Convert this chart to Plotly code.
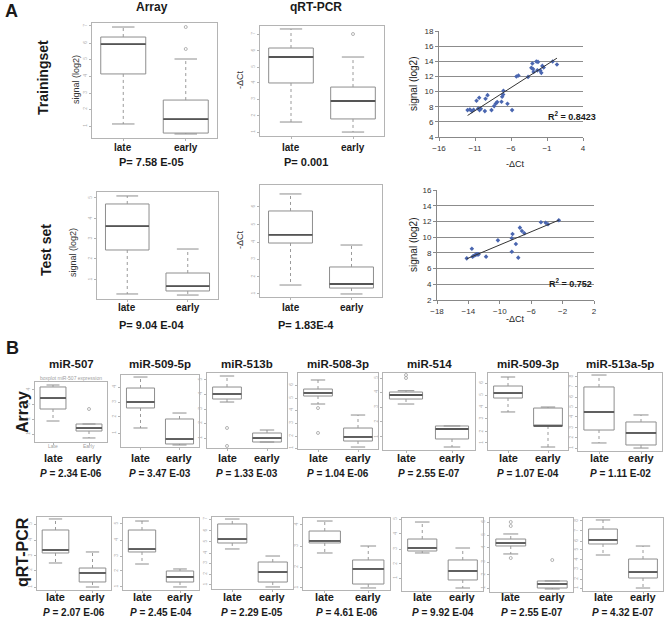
import numpy as np
import plotly.graph_objects as go

W, H = 666, 619
FONT = "Arial, Liberation Sans, sans-serif"

groups = ["late", "early"]

# ---- Panel A box plots ------------------------------------------------
# each box: [lower whisker, Q1, median, Q3, upper whisker]
# values read off the figure as % of the plot frame height
a_train_array = [[12.2, 55.7, 81.7, 87.8, 96.5], [3.5, 4.3, 16.5, 33.0, 68.7]]
a_train_array_out = [[], [96.5, 77.4]]
a_train_qpcr = [[12.7, 48.2, 71.8, 80.0, 97.3], [3.6, 15.5, 31.8, 44.5, 71.8]]
a_train_qpcr_out = [[], [92.7]]
a_test_array = [[4.7, 45.8, 68.2, 88.8, 96.3], [3.7, 7.5, 12.1, 24.3, 46.7]]
a_test_qpcr = [[10.7, 48.2, 55.4, 76.8, 92.0], [2.7, 8.0, 11.6, 26.8, 46.4]]
a_pvals = ["P= 7.58 E-05", "P= 0.001", "P= 9.04 E-04", "P= 1.83E-4"]

# ---- Panel A correlation scatters (-dCt vs array signal) ----------------
train_dct = [-12.03, -11.71, -11.43, -11.20, -10.79, -10.55, -10.42, -10.37, -10.19,
             -9.63, -9.54, -9.26, -8.71, -8.34, -8.11, -7.92, -7.32, -7.23, -7.09,
             -7.05, -6.49, -5.85, -5.25, -4.97, -3.63, -3.17, -3.03, -2.94, -2.85,
             -2.48, -2.34, -2.25, -1.93, -1.79, -1.65, -1.46, -0.22, 0.38]
train_signal = [7.55, 7.64, 7.42, 7.60, 8.78, 7.77, 9.18, 7.55, 7.73,
                7.42, 9.05, 9.53, 7.55, 8.08, 8.43, 8.61, 8.65, 9.31, 9.62,
                10.10, 8.39, 7.55, 11.99, 12.12, 11.94, 13.13, 13.70, 12.99, 12.60,
                13.96, 12.80, 13.92, 12.78, 12.47, 13.39, 13.17, 13.96, 13.57]
test_dct = [-14.21, -13.56, -13.47, -13.34, -13.13, -13.00, -12.83, -12.70, -11.75,
            -10.24, -8.47, -8.38, -8.47, -7.95, -7.65, -7.44, -7.18, -6.87,
            -4.76, -4.16, -3.86, -2.48]
test_signal = [7.30, 8.53, 7.52, 7.60, 7.73, 7.81, 7.81, 7.81, 7.52,
               9.59, 9.85, 10.40, 8.15, 9.13, 7.39, 11.21, 10.78, 10.49,
               11.89, 11.84, 11.63, 12.14]
r2_labels = ["0.8423", "0.752"]

# ---- Panel B: seven miRNAs, array and qRT-PCR ----------------------------
mirs = ["miR-507", "miR-509-5p", "miR-513b", "miR-508-3p", "miR-514", "miR-509-3p", "miR-513a-5p"]
b_array_late = [[35.0, 55.0, 73.3, 91.7, 95.0], [26.4, 54.2, 62.5, 81.9, 97.2],
                [61.3, 65.3, 72.0, 81.3, 96.0], [59.2, 69.7, 73.7, 78.9, 90.8],
                [59.7, 66.2, 71.4, 75.3, 77.0], [49.4, 67.5, 74.0, 83.1, 94.8],
                [10.3, 26.9, 50.0, 82.1, 97.4]]
b_array_early = [[6.7, 18.3, 23.3, 30.0, 30.0], [2.8, 4.2, 11.1, 38.9, 47.2],
                 [8.0, 8.0, 13.3, 20.0, 24.0], [2.6, 10.5, 15.8, 27.6, 44.7],
                 [3.9, 14.3, 27.3, 31.2, 31.2], [3.9, 31.2, 31.2, 54.5, 55.8],
                 [3.8, 7.7, 23.1, 37.2, 46.2]]
b_array_out_late = [[], [], [26.7, 2.7], [53.9, 21.1], [97.4, 93.5], [], []]
b_array_out_early = [[55.0], [], [], [], [], [], []]
b_array_p = ["2.34 E-06", "3.47 E-03", "1.33 E-03", "1.04 E-06", "2.55 E-07", "1.07 E-04", "1.11 E-02"]

b_qpcr_late = [[37.0, 50.7, 54.8, 82.2, 97.3], [36.1, 52.8, 56.9, 83.3, 95.8],
               [55.6, 63.9, 69.4, 90.3, 97.2], [51.4, 65.3, 68.1, 81.9, 95.8],
               [52.1, 54.8, 58.9, 71.2, 94.5], [51.4, 62.2, 66.2, 71.6, 78.4],
               [49.3, 64.4, 69.9, 84.9, 97.3]]
b_qpcr_early = [[4.1, 11.0, 23.3, 30.1, 52.1], [4.2, 11.1, 18.1, 26.4, 29.2],
                [2.8, 9.7, 23.6, 37.5, 45.8], [2.8, 8.3, 29.2, 41.7, 61.1],
                [4.1, 15.1, 27.4, 42.5, 58.9], [4.1, 5.4, 10.8, 14.9, 14.9],
                [4.1, 17.8, 26.0, 43.8, 61.6]]
b_qpcr_out_late = [[], [], [], [], [], [94.6, 89.2, 45.9], []]
b_qpcr_out_early = [[], [], [], [], [], [43.2], []]
b_qpcr_p = ["2.07 E-06", "2.45 E-04", "2.29 E-05", "4.61 E-06", "9.92 E-04", "2.55 E-07", "4.32 E-07"]

# ---- layout (pixel frames: x0, y0, x1, y1) ------------------------------
A_FRAMES = [(92, 23, 217, 138), (260, 26, 384, 136), (97, 192, 218, 299), (260, 185, 382, 297)]
A_TICKS = [[10.4, 25.2, 39.1, 53.9, 68.7, 82.6, 97.4],
           [3.6, 18.2, 33.6, 48.2, 62.7, 77.3, 92.7],
           [17.8, 37.4, 56.1, 74.8, 94.4],
           [2.7, 17.9, 33.9, 49.1, 64.3, 80.4]]
B_ARRAY_FRAMES = [(35, 382, 107, 442), (121, 375, 199, 447), (207, 373, 287, 448),
                  (298, 373, 378, 449), (383, 373, 475, 450), (488, 373, 568, 450),
                  (578, 373, 662, 451)]
B_QPCR_FRAMES = [(37, 517, 111, 590), (123, 518, 199, 590), (212, 517, 293, 589),
                 (303, 518, 390, 590), (402, 518, 483, 591), (490, 518, 573, 592),
                 (583, 518, 663, 591)]
B_ARRAY_TICKS = [[13.3, 38.3, 61.7, 86.7], [19.4, 41.7, 62.5, 83.3],
                 [13.3, 33.3, 52, 72, 90.7], [1.3, 17.1, 34.2, 51.3, 67.1, 84.2],
                 [16.9, 36.4, 55.8, 75.3, 93.5], [9.1, 23.4, 40.3, 55.8, 71.4, 87],
                 [3.8, 16.7, 29.5, 43.6, 56.4, 69.2, 82.1, 94.9]]
B_QPCR_TICKS = [[4.1, 27.4, 46.6, 68.5, 90.4], [4.2, 26.4, 47.2, 69.4, 91.7],
                [5.6, 20.8, 36.1, 50, 65.3, 80.6, 97.2], [2.8, 31.9, 61.1, 90.3],
                [17.8, 37, 57.5, 78.1, 98.6], [5.4, 23, 40.5, 59.5, 77, 94.6],
                [4.1, 16.4, 30.1, 42.5, 56.2, 68.5, 82.2, 95.9]]

FRAME_C = "#b4b4b4"
BOX_C = "#8e8e8e"
MED_C = "#555555"
BOX_W = 0.72

fig = go.Figure()
layout = {}
annotations = []
count = [0]


def add_axes(frame):
    count[0] += 1
    n = count[0]
    s = "" if n == 1 else str(n)
    x0, y0, x1, y1 = frame
    layout["xaxis" + s] = dict(domain=[x0 / W, x1 / W], anchor="y" + s, automargin=False)
    layout["yaxis" + s] = dict(domain=[1 - y1 / H, 1 - y0 / H], anchor="x" + s, automargin=False)
    return "x" + s, "y" + s, s


def text(x, y, s, size, bold=True, angle=0, color="#1a1a1a", xref="paper", xanchor="center"):
    annotations.append(dict(
        text="<b>%s</b>" % s if bold else s,
        x=x / W if xref == "paper" else x, y=1 - y / H,
        xref=xref, yref="paper", showarrow=False, textangle=angle,
        xanchor=xanchor, yanchor="middle",
        font=dict(family=FONT, size=size, color=color)))


def box_panel(frame, stats, outs, yticks, label_y=None, label_size=10):
    xa, ya, s = add_axes(frame)
    for i, st in enumerate(stats):
        lo, q1, med, q3, hi = st
        # R style: dotted whiskers with solid caps
        fig.add_trace(go.Scatter(
            x=[i, i, None, i, i], y=[q3, hi, None, q1, lo], mode="lines",
            line=dict(color="#9a9a9a", width=1, dash="dot"),
            xaxis=xa, yaxis=ya, showlegend=False, hoverinfo="skip"))
        c = BOX_W / 4
        fig.add_trace(go.Scatter(
            x=[i - c, i + c, None, i - c, i + c], y=[hi, hi, None, lo, lo], mode="lines",
            line=dict(color=BOX_C, width=1),
            xaxis=xa, yaxis=ya, showlegend=False, hoverinfo="skip"))
        fig.add_trace(go.Box(
            x=[i], lowerfence=[q1], q1=[q1], median=[med], q3=[q3],
            upperfence=[q3], width=BOX_W, whiskerwidth=0, fillcolor="white",
            line=dict(color=BOX_C, width=1), boxpoints=False,
            xaxis=xa, yaxis=ya, showlegend=False, hoverinfo="skip"))
        fig.add_trace(go.Scatter(
            x=[i - BOX_W / 2, i + BOX_W / 2], y=[med, med], mode="lines",
            line=dict(color=MED_C, width=1.8), xaxis=xa, yaxis=ya,
            showlegend=False, hoverinfo="skip"))
        if outs[i]:
            fig.add_trace(go.Scatter(
                x=[i] * len(outs[i]), y=outs[i], mode="markers",
                marker=dict(symbol="circle-open", size=3, color="#a0a0a0", line=dict(width=0.8)),
                xaxis=xa, yaxis=ya, showlegend=False, hoverinfo="skip"))
    layout["xaxis" + s].update(
        range=[-0.5, 1.5], showline=True, mirror=True, linecolor=FRAME_C, linewidth=1,
        showgrid=False, zeroline=False, tickvals=[0, 1], ticks="outside", ticklen=2,
        tickcolor=FRAME_C, showticklabels=False, fixedrange=True)
    layout["yaxis" + s].update(
        range=[0, 100], showline=True, mirror=True, linecolor=FRAME_C, linewidth=1,
        showgrid=False, zeroline=False, tickvals=yticks,
        ticktext=[str(k + 1) for k in range(len(yticks))], ticks="outside",
        ticklen=2, tickcolor=FRAME_C, tickangle=-90,
        tickfont=dict(family=FONT, size=5, color="#b0b0b0"), fixedrange=True)
    if label_y is not None:
        for i, g in enumerate(groups):
            text(i, label_y, g, label_size, xref=xa)
    return xa


def scatter_panel(frame, xs, ys, xr, yr, xticks):
    xa, ya, s = add_axes(frame)
    fig.add_trace(go.Scatter(
        x=xs, y=ys, mode="markers",
        marker=dict(symbol="diamond", size=3.5, color="#4a66b0"),
        xaxis=xa, yaxis=ya, showlegend=False, hoverinfo="skip"))
    slope, icpt = np.polyfit(xs, ys, 1)
    lx = np.array([min(xs), max(xs)])
    fig.add_trace(go.Scatter(
        x=lx, y=slope * lx + icpt, mode="lines", line=dict(color="#333333", width=1),
        xaxis=xa, yaxis=ya, showlegend=False, hoverinfo="skip"))
    layout["xaxis" + s].update(
        range=xr, tickvals=xticks, showline=True, linecolor="#888888", linewidth=1,
        showgrid=False, zeroline=False, ticks="outside", ticklen=3, tickcolor="#888888",
        tickfont=dict(family=FONT, size=8, color="#333333"), fixedrange=True)
    layout["yaxis" + s].update(
        range=yr, dtick=2, showline=True, linecolor="#888888", linewidth=1,
        showgrid=True, gridcolor="#8c8c8c", gridwidth=1, zeroline=False,
        ticks="outside", ticklen=3, tickcolor="#888888",
        tickfont=dict(family=FONT, size=8, color="#333333"), fixedrange=True)


# ---- panel A ------------------------------------------------------------
box_panel(A_FRAMES[0], a_train_array, a_train_array_out, A_TICKS[0], 147)
box_panel(A_FRAMES[1], a_train_qpcr, a_train_qpcr_out, A_TICKS[1], 147)
box_panel(A_FRAMES[2], a_test_array, [[], []], A_TICKS[2], 307)
box_panel(A_FRAMES[3], a_test_qpcr, [[], []], A_TICKS[3], 307)

scatter_panel((439, 31, 583, 137), train_dct, train_signal, [-16, 4], [4, 18], [-16, -11, -6, -1, 4])
scatter_panel((437, 190, 594, 300), test_dct, test_signal, [-18, 2], [2, 16], [-18, -14, -10, -6, -2, 2])

text(11, 11, "A", 18)
text(152, 7, "Array", 12)
text(316, 7, "qRT-PCR", 12)
text(43, 78, "Trainingset", 14, angle=-90)
text(46, 250, "Test set", 14, angle=-90)
text(76, 80, "signal (log2)", 9, bold=False, angle=-90, color="#333333")
text(73, 253, "signal (log2)", 9, bold=False, angle=-90, color="#333333")
text(240, 80, "-ΔCt", 9, bold=False, angle=-90, color="#333333")
text(240, 240, "-ΔCt", 9, bold=False, angle=-90, color="#333333")
text(151, 162, a_pvals[0], 11)
text(306, 162, a_pvals[1], 11)
text(151, 325, a_pvals[2], 11)
text(306, 325, a_pvals[3], 11)

text(413, 84, "signal (log2)", 10, bold=False, angle=-90, color="#222222")
text(413, 245, "signal (log2)", 10, bold=False, angle=-90, color="#222222")
text(515, 164, "-ΔCt", 9, bold=False, color="#222222")
text(515, 319, "-ΔCt", 9, bold=False, color="#222222")
text(546, 116, "R<sup>2</sup> = " + r2_labels[0], 9, xanchor="left")
text(547, 283, "R<sup>2</sup> = " + r2_labels[1], 9, xanchor="left")

# ---- panel B ------------------------------------------------------------
text(12, 348, "B", 18)
text(22, 412, "Array", 16, angle=-90)
text(22, 552, "qRT-PCR", 16, angle=-90)

b_axes = []
for k, name in enumerate(mirs):
    fa = B_ARRAY_FRAMES[k]
    b_axes.append(box_panel(fa, [b_array_late[k], b_array_early[k]],
                            [b_array_out_late[k], b_array_out_early[k]], B_ARRAY_TICKS[k], 458, 11))
    text((fa[0] + fa[2]) / 2, 364, name, 11.5)
    text((fa[0] + fa[2]) / 2, 473, "<i>P</i> = " + b_array_p[k], 10)
    fq = B_QPCR_FRAMES[k]
    box_panel(fq, [b_qpcr_late[k], b_qpcr_early[k]],
              [b_qpcr_out_late[k], b_qpcr_out_early[k]], B_QPCR_TICKS[k], 597, 11)
    text((fq[0] + fq[2]) / 2, 612, "<i>P</i> = " + b_qpcr_p[k], 10)

# tiny original R labels inside the miR-507 array plot
text(71, 378, "boxplot miR-507 expression", 5, bold=False, color="#a0a0a0")
text(0, 446, "Late", 5, bold=False, color="#a0a0a0", xref=b_axes[0])
text(1, 446, "Early", 5, bold=False, color="#a0a0a0", xref=b_axes[0])

fig.update_layout(
    template="none",
    width=W, height=H, margin=dict(l=0, r=0, t=0, b=0, pad=0, autoexpand=False),
    paper_bgcolor="white", plot_bgcolor="white",
    boxmode="overlay", showlegend=False, annotations=annotations,
    font=dict(family=FONT, color="#1a1a1a"), **layout)

# the page body keeps the browser's default margin otherwise
fig.write_html("out.html", config={"displayModeBar": False},
               post_script="document.body.style.margin = '0px';")
